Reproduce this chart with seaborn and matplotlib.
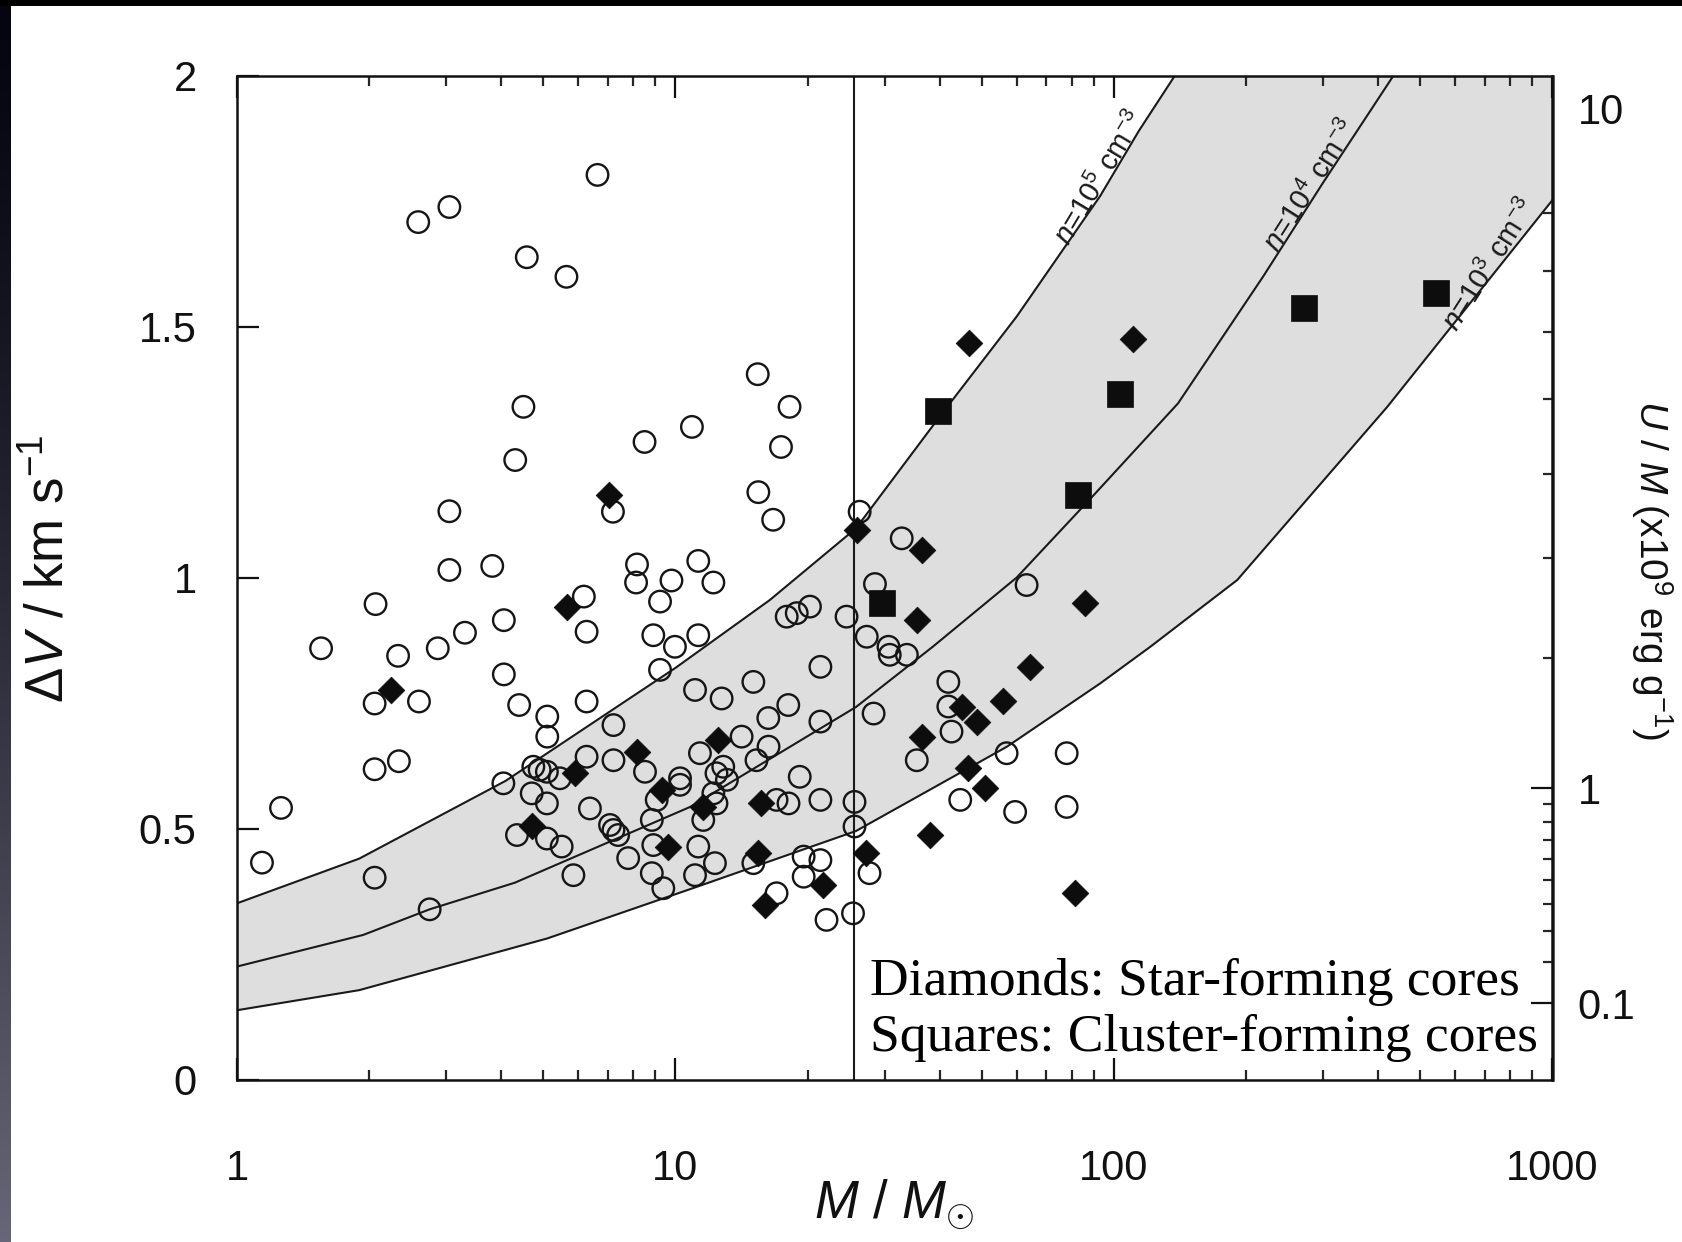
import numpy as np
import matplotlib
matplotlib.use("Agg")
import matplotlib.pyplot as plt
from matplotlib.patches import Rectangle
from matplotlib.ticker import NullLocator
import seaborn as sns

# ---------------------------------------------------------------------------
# Core samples: mass (M_sun) and line width dV (km/s)
# ---------------------------------------------------------------------------
starless_mass = [6.64, 2.59, 3.05, 4.58, 5.64, 15.4, 4.50, 18.2, 10.9, 8.5,
                 17.4, 4.31, 3.05, 15.45, 16.7, 7.2, 26.3, 32.8, 3.05, 3.82,
                 8.17, 11.27, 8.13, 9.79, 12.2, 6.18, 9.22, 2.07, 28.5, 63.2,
                 1.555, 2.33, 2.87, 3.31, 4.06, 4.06, 4.40, 2.06, 2.60, 2.06,
                 2.34, 1.26, 1.14, 2.06, 2.75, 4.05, 4.35, 6.27, 8.9, 9.97,
                 11.27, 9.22, 6.27, 5.10, 5.10, 7.22, 11.08, 12.74, 15.05, 21.4,
                 18.08, 16.28, 21.4, 17.93, 18.9, 20.26, 24.55, 27.3, 28.3, 4.74,
                 4.9, 5.09, 5.45, 4.70, 5.09, 5.09, 5.50, 5.85, 6.27, 7.22,
                 6.38, 7.09, 7.22, 7.40, 7.80, 8.52, 8.83, 9.06, 8.9, 8.83,
                 9.38, 10.24, 10.24, 11.37, 12.85, 12.4, 13.1, 12.2, 12.4, 11.57,
                 11.27, 11.08, 12.3, 14.15, 15.3, 16.3, 17.0, 18.1, 19.2, 21.4,
                 15.05, 19.6, 21.4, 19.6, 17.0, 22.1, 25.4, 25.6, 25.6, 27.7,
                 30.6, 30.8, 33.7, 41.9, 41.9, 42.6, 35.5, 56.9, 78.0, 44.6,
                 59.5, 78.0]
starless_dv = [1.802, 1.708, 1.738, 1.638, 1.599, 1.405, 1.340, 1.340, 1.300, 1.270,
               1.260, 1.234, 1.132, 1.170, 1.115, 1.131, 1.131, 1.078, 1.015, 1.023,
               1.026, 1.033, 0.990, 0.994, 0.990, 0.962, 0.952, 0.947, 0.987, 0.985,
               0.859, 0.844, 0.859, 0.890, 0.915, 0.807, 0.746, 0.749, 0.753, 0.618,
               0.634, 0.541, 0.432, 0.402, 0.339, 0.590, 0.487, 0.892, 0.885, 0.862,
               0.885, 0.816, 0.753, 0.723, 0.683, 0.706, 0.776, 0.759, 0.792, 0.822,
               0.746, 0.720, 0.713, 0.922, 0.929, 0.942, 0.922, 0.882, 0.729, 0.623,
               0.617, 0.613, 0.600, 0.570, 0.550, 0.480, 0.464, 0.407, 0.643, 0.636,
               0.540, 0.507, 0.497, 0.487, 0.441, 0.613, 0.517, 0.557, 0.467, 0.411,
               0.381, 0.600, 0.587, 0.650, 0.623, 0.610, 0.597, 0.570, 0.550, 0.517,
               0.464, 0.407, 0.431, 0.683, 0.636, 0.663, 0.557, 0.550, 0.603, 0.557,
               0.431, 0.444, 0.437, 0.404, 0.371, 0.318, 0.331, 0.553, 0.504, 0.411,
               0.862, 0.846, 0.846, 0.792, 0.743, 0.693, 0.636, 0.650, 0.650, 0.557,
               0.533, 0.543]

star_mass = [2.25, 5.65, 7.07, 4.70, 5.90, 8.15, 9.30, 9.63, 11.57, 12.5,
             15.7, 15.45, 16.0, 21.7, 27.2, 25.9, 36.4, 35.5, 36.4, 38.1,
             45.0, 48.6, 46.5, 50.8, 55.9, 64.3, 85.9, 81.5, 46.7, 110.5]
star_dv = [0.776, 0.942, 1.164, 0.504, 0.610, 0.653, 0.577, 0.464, 0.543, 0.676,
           0.550, 0.451, 0.348, 0.387, 0.451, 1.095, 1.055, 0.915, 0.683, 0.487,
           0.743, 0.713, 0.620, 0.580, 0.753, 0.822, 0.949, 0.371, 1.467, 1.475]

cluster_mass = [29.5, 39.6, 82.9, 103.0, 271.0, 541.0]
cluster_dv = [0.949, 1.331, 1.164, 1.366, 1.536, 1.567]

# Virial line widths at constant density
n5_mass = [1, 1.9, 4.1, 10, 16.4, 25.8, 40, 60, 93, 114, 145]
n5_dv = [0.351, 0.440, 0.595, 0.82, 0.955, 1.098, 1.32, 1.52, 1.76, 1.89, 2.03]
n4_mass = [1, 1.94, 2.75, 4.3, 10.8, 25.8, 38.6, 60, 89, 140, 219, 299, 434]
n4_dv = [0.225, 0.288, 0.339, 0.392, 0.543, 0.742, 0.862, 1.00, 1.16, 1.347, 1.60,
         1.785, 2.0]
n3_mass = [1, 1.9, 5.1, 11.2, 25.8, 57, 93, 121, 191, 420, 1000]
n3_dv = [0.138, 0.178, 0.281, 0.384, 0.495, 0.663, 0.789, 0.862, 0.995, 1.34, 1.752]

curve_labels = [r"$n$=10$^5$ cm$^{-3}$", r"$n$=10$^4$ cm$^{-3}$", r"$n$=10$^3$ cm$^{-3}$"]
label_mass = [93, 281, 720]
label_dv = [1.795, 1.780, 1.622]
label_angle = [59, 57.5, 57.5]

critical_mass = 25.5
x_ticks = [1, 10, 100, 1000]
y_ticks = [0, 0.5, 1, 1.5, 2]
um_major = [0.1, 1, 10]
um_minor = [0.2, 0.3, 0.4, 0.5, 0.6, 0.7, 0.8, 0.9, 2, 3, 4, 5, 6, 7, 8, 9]

# line width <-> specific kinetic energy (1e9 erg/g)
UM_SCALE = 0.6267
UM_OFFSET = 0.0466


def dv_to_um(dv):
    return ((np.asarray(dv, dtype=float) + UM_OFFSET) / UM_SCALE) ** 2


def um_to_dv(um):
    return UM_SCALE * np.sqrt(np.clip(np.asarray(um, dtype=float), 0, None)) - UM_OFFSET


# ---------------------------------------------------------------------------
sns.set_style("ticks")
plt.rcParams["font.family"] = ["Liberation Sans", "DejaVu Sans"]
plt.rcParams["mathtext.fontset"] = "custom"
plt.rcParams["mathtext.rm"] = "Liberation Sans"
plt.rcParams["mathtext.it"] = "Liberation Sans:italic"
plt.rcParams["mathtext.bf"] = "Liberation Sans:bold"
plt.rcParams["mathtext.sf"] = "Liberation Sans"

W, H = 1682, 1242
fig = plt.figure(figsize=(W / 100, H / 100), dpi=100, facecolor="black")

# slide frame: white panel with a dark gradient strip on the left
fig.add_artist(Rectangle((11 / W, 0), 1, 1 - 6 / H, transform=fig.transFigure,
                         facecolor="white", edgecolor="none", zorder=-10))
strip = fig.add_axes([0, 0, 11 / W, 1 - 6 / H], zorder=-5)
grad = np.linspace(0, 1, 256)[:, None]
top_c = np.array([0.02, 0.02, 0.06])
bot_c = np.array([0.40, 0.40, 0.47])
strip.imshow(top_c + (bot_c - top_c) * grad[:, :, None] ** 1.3, aspect="auto")
strip.set_axis_off()

ax = fig.add_axes([237 / W, 1 - 1079.5 / H, 1315.5 / W, 1004 / H])
ax.set_xscale("log")
ax.set_xlim(1, 1000)
ax.set_ylim(0, 2)

# shaded band between the highest and lowest density curves
poly_x = list(n5_mass) + [1000] + list(n3_mass[::-1])
poly_y = list(n5_dv) + [n5_dv[-1]] + list(n3_dv[::-1])
ax.fill(poly_x, poly_y, color="#dedede", lw=0, zorder=0.5)

for m, v in [(n5_mass, n5_dv), (n4_mass, n4_dv), (n3_mass, n3_dv)]:
    sns.lineplot(x=m, y=v, sort=False, estimator=None, color="#1a1a1a",
                 lw=1.5, ax=ax, zorder=1)

ax.axvline(critical_mass, color="#1a1a1a", lw=1.5, zorder=1.2)

for txt, m, v, a in zip(curve_labels, label_mass, label_dv, label_angle):
    ax.text(m, v, txt, rotation=a, ha="center", va="center",
            rotation_mode="anchor", fontsize=21, color="#1a1a1a", zorder=2)

sns.scatterplot(x=starless_mass, y=starless_dv, marker="o", s=240,
                facecolor="none", edgecolor="#151515", linewidth=1.7,
                ax=ax, zorder=3)
ax.collections[-1].set_facecolor("none")
sns.scatterplot(x=star_mass, y=star_dv, marker="D", s=185, color="#0d0d0d",
                edgecolor="#0d0d0d", linewidth=0.5, ax=ax, zorder=4)
sns.scatterplot(x=cluster_mass, y=cluster_dv, marker="s", s=370, color="#0d0d0d",
                edgecolor="#0d0d0d", linewidth=0.5, ax=ax, zorder=5)

ax.text(0.481, 0.017, "Diamonds: Star-forming cores\nSquares: Cluster-forming cores",
        transform=ax.transAxes, ha="left", va="bottom", fontsize=38.5,
        family="Liberation Serif", linespacing=1.22, color="black", zorder=6)

# axes styling
for s in ax.spines.values():
    s.set_linewidth(1.8)
    s.set_color("#111111")

ax.set_xticks(x_ticks, labels=[str(t) for t in x_ticks])
ax.set_xticks([k * d for d in (1, 10, 100) for k in range(2, 10)], minor=True)
ax.set_yticks(y_ticks, labels=["0", "0.5", "1", "1.5", "2"])
ax.yaxis.set_minor_locator(NullLocator())
ax.tick_params(axis="x", which="major", direction="in", length=15.5, width=1.6,
               top=True, bottom=True, pad=50, labelsize=30, colors="#111111")
ax.tick_params(axis="x", which="minor", direction="in", length=7.5, width=1.6,
               top=True, bottom=True)
ax.tick_params(axis="y", which="major", direction="in", length=15.5, width=1.6,
               left=True, right=False, pad=29, labelsize=30, colors="#111111")

sec = ax.secondary_yaxis("right", functions=(dv_to_um, um_to_dv))
sec.set_yticks(um_major, labels=["0.1", "1", "10"])
sec.set_yticks(um_minor, minor=True)
sec.tick_params(axis="y", which="major", direction="in", length=15.5, width=1.6,
                pad=18, labelsize=30, colors="#111111")
sec.tick_params(axis="y", which="minor", direction="in", length=7.5, width=1.6)
sec.spines["right"].set_linewidth(1.8)

# axis titles
ax.text(0.50, -0.098, r"$M$ / $M_{\odot}$", transform=ax.transAxes,
        ha="center", va="top", fontsize=38, color="#111111")
ax.text(-0.1425, 0.509, r"$\Delta V$ / km s$^{-1}$", transform=ax.transAxes,
        rotation=90, rotation_mode="anchor", ha="center", va="center",
        fontsize=38, color="#111111")
ax.text(1.0756, 0.507, r"$U$ / $M$ (x10$^9$ erg g$^{-1}$)", transform=ax.transAxes,
        rotation=270, rotation_mode="anchor", ha="center", va="center",
        fontsize=28, color="#111111")

fig.savefig("out.png", dpi=100, facecolor=fig.get_facecolor())
